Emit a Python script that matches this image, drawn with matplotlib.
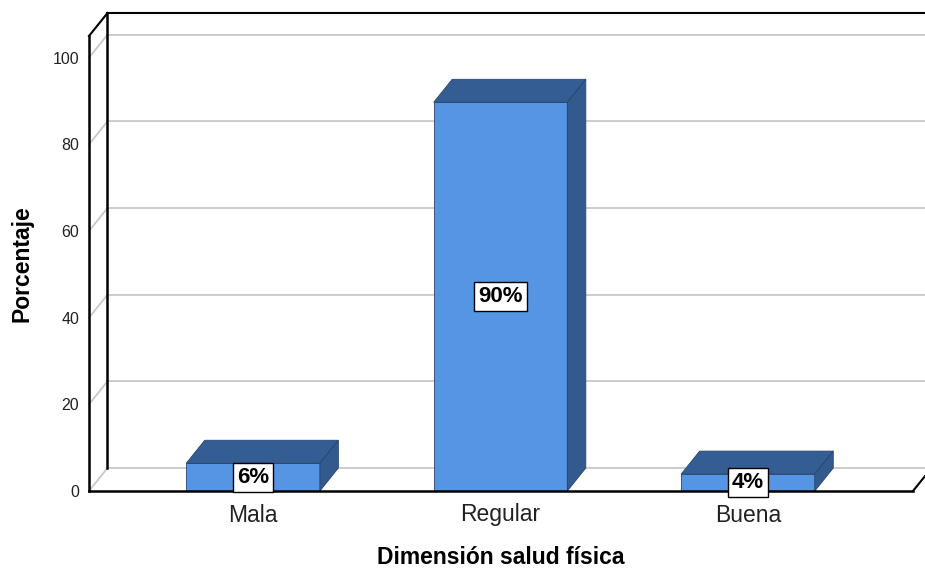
import matplotlib
matplotlib.use("Agg")
import matplotlib.pyplot as plt
from matplotlib.patches import Polygon
import numpy as np

categories = ["Mala", "Regular", "Buena"]
values = [6.4, 89.7, 3.9]
value_labels = ["6%", "90%", "4%"]
yticks = [0, 20, 40, 60, 80, 100]

plt.rcParams['font.family'] = ['Liberation Sans', 'DejaVu Sans']

FRONT = '#5595E4'
TOP = '#345D93'
SIDE = '#325A8D'
EDGE = '#27456E'
GRID = '#C8C8C8'

fig = plt.figure(figsize=(9.25, 5.72), dpi=100)
ax = fig.add_axes([89/925, 81/572, 824/925, 455/572])
x = np.arange(len(categories))
ax.set_xlim(-0.663, 2.667)
ax.set_ylim(0, 105)

# depth offset in data units (from pixel offset)
inv = ax.transData.inverted()
p0 = ax.transData.transform((0, 0))
p1 = inv.transform((p0[0] + 18.5, p0[1] + 23))
dx, dy = p1[0], p1[1]

xmin, xmax = ax.get_xlim()
ymax = ax.get_ylim()[1]
kw = dict(clip_on=False)

# back wall gridlines and diagonal connectors
for t in yticks:
    ax.plot([xmin + dx, xmax + dx], [t + dy, t + dy], color=GRID, lw=1.3, zorder=1, **kw)
    ax.plot([xmin, xmin + dx], [t, t + dy], color=GRID, lw=1.3, zorder=1, **kw)
# back wall frame
ax.plot([xmin + dx, xmin + dx], [dy, ymax + dy], color='black', lw=1.8, zorder=2, **kw)
ax.plot([xmin + dx, xmax + dx], [ymax + dy, ymax + dy], color='black', lw=1.5, zorder=2, **kw)
ax.plot([xmin, xmin + dx], [ymax, ymax + dy], color='black', lw=1.5, zorder=2, **kw)
# right floor diagonal
ax.plot([xmax, xmax + dx], [0, dy], color='black', lw=1.5, zorder=2, **kw)

# bars
w = 0.27
bars = ax.bar(x, values, width=2 * w, color=FRONT, edgecolor=EDGE, linewidth=0.6, zorder=4)
for xi, v in zip(x, values):
    top = Polygon([[xi - w, v], [xi + w, v], [xi + w + dx, v + dy], [xi - w + dx, v + dy]],
                  closed=True, facecolor=TOP, edgecolor=EDGE, linewidth=0.6, zorder=4, **kw)
    side = Polygon([[xi + w, 0], [xi + w + dx, dy], [xi + w + dx, v + dy], [xi + w, v]],
                   closed=True, facecolor=SIDE, edgecolor=EDGE, linewidth=0.6, zorder=4, **kw)
    ax.add_patch(top)
    ax.add_patch(side)

for xi, v, lab in zip(x, values, value_labels):
    ax.text(xi, v / 2, lab, ha='center', va='center', fontsize=16, fontweight='bold', zorder=6,
            bbox=dict(boxstyle='square,pad=0.18', facecolor='white', edgecolor='black', linewidth=1))

# axes styling
for s in ['top', 'right']:
    ax.spines[s].set_visible(False)
ax.spines['left'].set_linewidth(1.8)
ax.spines['bottom'].set_linewidth(1.8)
ax.spines['left'].set_zorder(5)
ax.spines['bottom'].set_zorder(5)
ax.set_yticks(yticks)
ax.set_yticklabels([str(t) for t in yticks], fontsize=11.5, color='#222222')
ax.tick_params(axis='y', length=0, pad=7)
ax.set_xticks(x)
ax.set_xticklabels(categories, fontsize=16.5, color='#222222')
ax.tick_params(axis='x', length=0, pad=9)
ax.set_xlabel("Dimensión salud física", fontsize=16.5, fontweight='bold', labelpad=14)
ax.set_ylabel("Porcentaje", fontsize=16.5, fontweight='bold', labelpad=14)
ax.patch.set_visible(False)

fig.savefig("out.png", dpi=100)
